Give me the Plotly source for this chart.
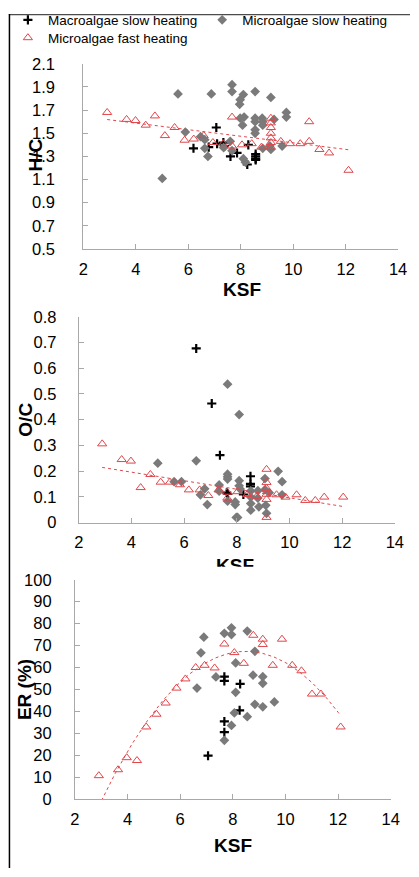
import numpy as np
import plotly.graph_objects as go

# ---------------- data ----------------
# Panel 1: H/C vs KSF
fast_ksf_hc = [2.91, 3.65, 3.99, 4.38, 4.73, 5.11, 5.48, 5.86, 6.21, 6.59, 6.94, 7.33, 7.67, 7.67, 8.05,
               8.42, 8.79, 9.15, 9.15, 9.15, 9.15, 9.15, 9.15, 9.15, 9.53, 9.88, 10.27, 10.61, 10.61,
               11.00, 11.37, 12.11]
fast_hc = [1.68, 1.62, 1.61, 1.57, 1.65, 1.48, 1.55, 1.44, 1.45, 1.48, 1.42, 1.41, 1.64, 1.39, 1.40,
           1.41, 1.38, 1.63, 1.59, 1.55, 1.50, 1.46, 1.42, 1.38, 1.43, 1.41, 1.41, 1.43, 1.60,
           1.36, 1.33, 1.18]
macro_ksf_hc = [6.20, 6.78, 7.07, 7.10, 7.34, 7.38, 7.61, 7.86, 8.25, 8.29, 8.57, 8.57, 8.57, 8.57]
macro_hc = [1.37, 1.38, 1.55, 1.41, 1.42, 1.39, 1.30, 1.33, 1.23, 1.40, 1.32, 1.30, 1.28, 1.27]
micro_ksf_hc = [5.01, 5.61, 5.89, 6.47, 6.63, 6.63, 6.75, 6.88, 7.35, 7.60, 7.67, 7.67, 7.67, 7.96,
                7.98, 7.98, 8.07, 8.10, 8.10, 8.13, 8.18, 8.55, 8.55, 8.55, 8.55, 8.55, 8.82, 8.84,
                8.84, 8.84, 9.11, 9.15, 9.15, 9.27, 9.58, 9.74, 9.74]
micro_hc = [1.11, 1.84, 1.51, 1.47, 1.445, 1.37, 1.30, 1.84, 1.375, 1.43, 1.92, 1.86, 1.35, 1.75,
            1.79, 1.63, 1.57, 1.835, 1.28, 1.64, 1.25, 1.86, 1.63, 1.60, 1.53, 1.50, 1.63, 1.60,
            1.57, 1.37, 1.39, 1.81, 1.36, 1.62, 1.39, 1.68, 1.64]

# Panel 2: O/C vs KSF
fast_ksf_oc = [2.89, 3.63, 3.98, 4.35, 4.72, 5.11, 5.46, 5.84, 6.18, 6.59, 6.92, 7.31, 7.64, 7.64,
               8.03, 8.40, 8.76, 9.13, 9.13, 9.13, 9.13, 9.13, 9.13, 9.51, 9.85, 10.27, 10.60,
               10.98, 11.32, 12.04]
fast_oc = [0.306, 0.245, 0.239, 0.136, 0.187, 0.157, 0.157, 0.147, 0.127, 0.127, 0.105, 0.127,
           0.118, 0.095, 0.120, 0.109, 0.102, 0.207, 0.156, 0.133, 0.110, 0.090, 0.020, 0.108,
           0.099, 0.108, 0.086, 0.086, 0.099, 0.099]
macro_ksf_oc = [6.46, 7.05, 7.36, 7.62, 7.66, 8.25, 8.52, 8.52, 8.52]
macro_oc = [0.677, 0.463, 0.262, 0.116, 0.111, 0.109, 0.180, 0.150, 0.141]
micro_ksf_oc = [5.00, 5.62, 5.90, 6.46, 6.62, 6.78, 6.88, 7.33, 7.33, 7.65, 7.65, 7.65, 7.65, 7.65,
                7.94, 7.94, 7.98, 8.03, 8.09, 8.09, 8.09, 8.13, 8.53, 8.53, 8.53, 8.53, 8.80, 8.80,
                8.84, 9.07, 9.07, 9.10, 9.13, 9.23, 9.57, 9.72, 9.72]
micro_oc = [0.231, 0.159, 0.159, 0.240, 0.108, 0.131, 0.070, 0.146, 0.122, 0.538, 0.188, 0.178,
            0.169, 0.083, 0.080, 0.070, 0.020, 0.020, 0.420, 0.163, 0.143, 0.130, 0.123, 0.099,
            0.074, 0.048, 0.124, 0.095, 0.061, 0.171, 0.128, 0.067, 0.036, 0.116, 0.199, 0.159,
            0.108]

# Panel 3: ER (%) vs KSF
fast_ksf_er = [2.91, 3.64, 3.97, 4.36, 4.71, 5.10, 5.45, 5.86, 6.20, 6.59, 6.93, 7.31, 7.68, 8.06,
               8.42, 8.78, 9.14, 9.14, 9.52, 9.87, 10.26, 10.61, 11.01, 11.35, 12.10]
fast_er = [10.7, 13.4, 18.9, 17.6, 32.9, 38.7, 43.8, 50.6, 54.8, 60.0, 61.0, 59.8, 70.7, 66.8,
           61.9, 74.7, 72.9, 70.5, 61.0, 72.9, 61.0, 58.5, 47.9, 47.9, 32.9]
macro_ksf_er = [7.06, 7.68, 7.68, 7.68, 7.68, 8.26, 8.28]
macro_er = [19.8, 30.5, 35.4, 53.9, 55.8, 40.5, 52.5]
micro_ksf_er = [6.64, 6.79, 6.90, 7.36, 7.68, 7.68, 7.95, 7.95, 7.95, 8.06, 8.11, 8.11, 8.55, 8.55,
                8.77, 8.84, 8.84, 9.14, 9.14, 9.14, 9.58]
micro_er = [50.6, 66.7, 73.8, 55.7, 75.6, 26.8, 78.1, 75.0, 33.6, 39.3, 48.7, 62.1, 76.6, 37.6,
            56.5, 67.4, 43.2, 55.8, 52.8, 42.1, 44.3]

series_names = ["Macroalgae slow heating", "Microalgae slow heating", "Microalgae fast heating"]
x_title = "KSF"
y_titles = ["H/C", "O/C", "ER (%)"]

# ---------------- styling ----------------
W, H = 419, 877
FONT = "Liberation Sans, Arial, Helvetica, sans-serif"
RED = "#e0464b"
GRAY = "#7a7a7a"
AXIS = "#a8a8a8"

def fx(px):
    return px / W

def fy(px):
    return 1 - px / H

# plot areas in pixels: (left, right, top, bottom)
areas = [(81, 406.7, 56, 245), (76.3, 403.3, 314.3, 524.3), (72.3, 399, 582.7, 806.7)]
y_ranges = [[0.5, 2.1], [0, 0.8], [0, 100]]
y_dticks = [0.2, 0.1, 10]
y_standoff = [24, 18, 19]

panels = [
    (macro_ksf_hc, macro_hc, micro_ksf_hc, micro_hc, fast_ksf_hc, fast_hc, 1),
    (macro_ksf_oc, macro_oc, micro_ksf_oc, micro_oc, fast_ksf_oc, fast_oc, 1),
    (macro_ksf_er, macro_er, micro_ksf_er, micro_er, fast_ksf_er, fast_er, 2),
]

fig = go.Figure()
for i, (mx, my, sx, sy, fxs, fys, deg) in enumerate(panels):
    suffix = "" if i == 0 else str(i + 1)
    xa, ya = "x" + suffix, "y" + suffix
    show = i == 0
    fig.add_trace(go.Scatter(
        x=mx, y=my, mode="markers", name=series_names[0], showlegend=show, legend="legend",
        xaxis=xa, yaxis=ya,
        marker=dict(symbol="cross-thin", size=6.5, color="black", line=dict(width=2.2, color="black"))))
    fig.add_trace(go.Scatter(
        x=sx, y=sy, mode="markers", name=series_names[1], showlegend=show, legend="legend2",
        xaxis=xa, yaxis=ya,
        marker=dict(symbol="diamond", size=7.5, color=GRAY, line=dict(width=0))))
    fig.add_trace(go.Scatter(
        x=fxs, y=fys, mode="markers", name=series_names[2], showlegend=show, legend="legend3",
        xaxis=xa, yaxis=ya,
        marker=dict(symbol="triangle-up-open", size=8, color=RED, line=dict(width=1, color=RED))))
    # trendline fitted to the fast-heating series
    coef = np.polyfit(fxs, fys, deg)
    tx = np.linspace(min(fxs), max(fxs), 200)
    fig.add_trace(go.Scatter(
        x=tx, y=np.polyval(coef, tx), mode="lines", showlegend=False, hoverinfo="skip",
        xaxis=xa, yaxis=ya, line=dict(color=RED, width=1, dash="dot")))

legend_style = dict(orientation="v", xanchor="left", yanchor="top",
                    font=dict(size=13.5, family=FONT, color="black"),
                    itemwidth=30, tracegroupgap=0, bgcolor="rgba(0,0,0,0)", borderwidth=0)

layout = dict(
    width=W, height=H, margin=dict(l=0, r=0, t=0, b=0, pad=0),
    paper_bgcolor="white", plot_bgcolor="white",
    font=dict(family=FONT, color="black", size=16),
    showlegend=True,
    legend=dict(x=fx(3), y=fy(-4.5), **legend_style),
    legend2=dict(x=fx(204), y=fy(-4.5), **legend_style),
    legend3=dict(x=fx(3), y=fy(13.7), **legend_style),
)

for i, (l, r, t, b) in enumerate(areas):
    suffix = "" if i == 0 else str(i + 1)
    layout["xaxis" + suffix] = dict(
        domain=[fx(l), fx(r)], anchor="y" + suffix, range=[2, 14], dtick=2, tick0=2,
        showgrid=False, zeroline=False, showline=True, linecolor=AXIS, linewidth=1,
        ticks="inside", ticklen=5, tickcolor=AXIS, tickwidth=1,
        tickfont=dict(size=16.5, family=FONT, color="black"), ticklabelstandoff=5)
    layout["yaxis" + suffix] = dict(
        domain=[fy(b), fy(t)], anchor="x" + suffix, range=y_ranges[i], dtick=y_dticks[i],
        tick0=y_ranges[i][0],
        showgrid=False, zeroline=False, showline=True, linecolor=AXIS, linewidth=1,
        ticks="inside", ticklen=5, tickcolor=AXIS, tickwidth=1,
        tickfont=dict(size=16.5, family=FONT, color="black"), ticklabelstandoff=y_standoff[i])

# hidden axis used only to clip the partly covered x-title of panel 2
layout["xaxis4"] = dict(domain=[0, 1], range=[0, 1], visible=False, anchor="y4")
layout["yaxis4"] = dict(domain=[fy(569.5), fy(540)], range=[0, 1], visible=False, anchor="x4")
fig.add_trace(go.Scatter(
    x=[238 / W], y=[0.0], mode="text", text=["<b>" + x_title + "</b>"], textposition="middle center",
    textfont=dict(size=19, family=FONT, color="black"), cliponaxis=True, showlegend=False,
    hoverinfo="skip", xaxis="x4", yaxis="y4"))

fig.update_layout(**layout)

# axis titles
ann = []
for xp, yp in [(245, 286), (236, 854)]:
    ann.append(dict(text="<b>" + x_title + "</b>", x=fx(xp), y=fy(yp), xref="paper", yref="paper",
                    xanchor="center", yanchor="middle", showarrow=False, font=dict(size=19, family=FONT)))
for txt, xp, yp in [(y_titles[0], 31.7, 149), (y_titles[1], 21.7, 419.3), (y_titles[2], 20, 695)]:
    ann.append(dict(text="<b>" + txt + "</b>", x=fx(xp), y=fy(yp), xref="paper", yref="paper",
                    xanchor="center", yanchor="middle", showarrow=False, textangle=-90,
                    font=dict(size=19, family=FONT)))
fig.update_layout(annotations=ann)

# outer frame (top and left edges)
fig.update_layout(shapes=[
    dict(type="line", xref="paper", yref="paper", x0=fx(4), x1=1, y0=fy(5.7), y1=fy(5.7),
         line=dict(color="#4d4d4d", width=1.2)),
    dict(type="line", xref="paper", yref="paper", x0=fx(4.6), x1=fx(4.6), y0=fy(5.2), y1=0,
         line=dict(color="black", width=1.5)),
])

fig.write_html("out.html", config={"displayModeBar": False},
               post_script="document.body.style.margin='0';document.body.style.overflow='hidden';")
